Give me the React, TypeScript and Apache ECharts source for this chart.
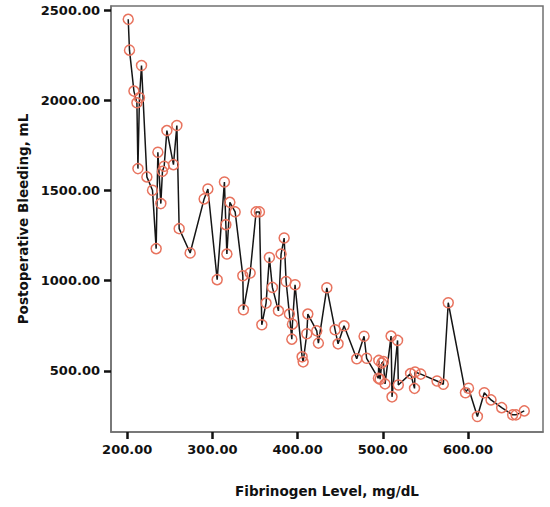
import React, { useEffect, useRef } from "react";
import * as echarts from "echarts";

const fibrinogen: number[] = [
  201.2, 202.7, 207.9, 211.4, 212.6, 214.4, 216.8, 223.1, 229.7, 234.0,
  236.0, 239.5, 241.4, 243.4, 246.6, 254.3, 258.3, 261.0, 273.9, 290.3,
  294.7, 305.6, 314.1, 315.8, 317.0, 320.5, 326.7, 335.7, 336.4, 344.3,
  351.3, 355.2, 358.0, 363.0, 366.9, 370.4, 377.5, 380.6, 384.2, 386.5,
  390.4, 393.2, 393.9, 397.0, 405.3, 406.5, 410.8, 412.0, 422.5, 424.4,
  434.3, 444.0, 447.5, 454.5, 469.4, 478.0, 481.0, 494.8, 495.3, 496.8,
  498.8, 500.6, 502.6, 509.7, 510.8, 517.3, 518.2, 532.6, 537.2, 537.8,
  544.6, 563.6, 571.0, 576.8, 597.0, 600.6, 611.0, 619.1, 627.0, 639.5,
  652.4, 656.3, 666.0,
];

const bleeding: number[] = [
  2450, 2279, 2052, 1987, 1622, 2015, 2194, 1576, 1502, 1178,
  1713, 1428, 1607, 1635, 1833, 1644, 1861, 1289, 1154, 1454,
  1509, 1006, 1548, 1311, 1148, 1435, 1382, 1028, 839, 1043,
  1382, 1382, 756, 876, 1129, 963, 833, 1148, 1237, 996,
  815, 676, 759, 978, 578, 550, 706, 815, 722, 654,
  961, 728, 650, 750, 567, 692, 570, 459, 558, 454,
  543, 552, 428, 693, 356, 669, 422, 485, 403, 494,
  482, 444, 426, 878, 379, 404, 247, 379, 339, 296,
  256, 256, 278,
];

const xTicks: number[] = [200, 300, 400, 500, 600];
const yTicks: number[] = [500, 1000, 1500, 2000, 2500];

const FONT = "DejaVu Sans";

export default function App() {
  const ref = useRef<HTMLDivElement>(null);

  useEffect(() => {
    if (!ref.current) return;
    const chart = echarts.init(ref.current, null, { renderer: "svg" });
    const data = fibrinogen.map((x, i) => [x, bleeding[i]]);
    chart.setOption({
      animation: false,
      backgroundColor: "#ffffff",
      grid: {
        left: 111,
        top: 6,
        right: 7,
        bottom: 75,
        show: true,
        borderColor: "#707070",
        borderWidth: 1.5,
        containLabel: false,
      },
      xAxis: {
        type: "value",
        min: 181,
        max: 688,
        name: "Fibrinogen Level, mg/dL",
        nameLocation: "middle",
        nameGap: 52,
        nameTextStyle: {
          fontFamily: FONT,
          fontWeight: "bold",
          fontSize: 13.5,
          color: "#111",
          verticalAlign: "top",
        },
        splitLine: { show: false },
        axisLine: { show: true, lineStyle: { color: "#707070", width: 1.5 } },
        axisTick: {
          show: true,
          length: 7,
          lineStyle: { color: "#111", width: 2.5 },
          customValues: xTicks,
        },
        axisLabel: {
          customValues: xTicks,
          margin: 11,
          fontFamily: FONT,
          fontWeight: "bold",
          fontSize: 13,
          color: "#111",
          formatter: (v: number) => v.toFixed(2),
        },
      },
      yAxis: {
        type: "value",
        min: 161,
        max: 2524,
        name: "Postoperative Bleeding, mL",
        nameLocation: "middle",
        nameGap: 80,
        nameTextStyle: {
          fontFamily: FONT,
          fontWeight: "bold",
          fontSize: 13.5,
          color: "#111",
        },
        splitLine: { show: false },
        axisLine: { show: true, lineStyle: { color: "#707070", width: 1.5 } },
        axisTick: {
          show: true,
          length: 7,
          lineStyle: { color: "#111", width: 2.5 },
          customValues: yTicks,
        },
        axisLabel: {
          customValues: yTicks,
          margin: 11,
          fontFamily: FONT,
          fontWeight: "bold",
          fontSize: 13,
          color: "#111",
          formatter: (v: number) => v.toFixed(2),
        },
      },
      series: [
        {
          type: "line",
          data,
          symbol: "circle",
          symbolSize: 10,
          showSymbol: true,
          lineStyle: { color: "#151515", width: 1.5 },
          itemStyle: {
            color: "rgba(0,0,0,0)",
            borderColor: "#e8735e",
            borderWidth: 1.5,
          },
          emphasis: { disabled: true },
        },
      ],
    });
    return () => chart.dispose();
  }, []);

  return (
    <div
      ref={ref}
      style={{ position: "fixed", left: 0, top: 0, width: 550, height: 507 }}
    />
  );
}
